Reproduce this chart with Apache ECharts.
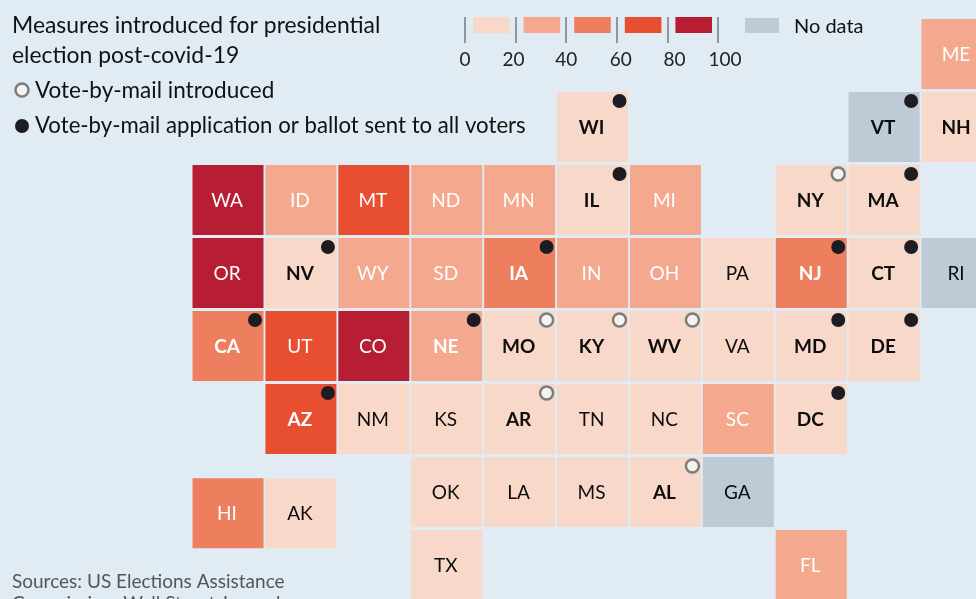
<!DOCTYPE html>
<html><head><meta charset="utf-8">
<style>html,body{margin:0;padding:0;background:#e1ebf3;overflow:hidden}#c{width:976px;height:599px}</style>
<script src="https://cdn.jsdelivr.net/npm/echarts@6/dist/echarts.min.js"></script>
</head><body><div id="c"></div>
<script>
const stateCodes = ['ME','WI','VT','NH','WA','ID','MT','ND','MN','IL','MI','NY','MA','OR','NV','WY','SD','IA','IN','OH','PA','NJ','CT','RI','CA','UT','CO','NE','MO','KY','WV','VA','MD','DE','AZ','NM','KS','AR','TN','NC','SC','DC','OK','LA','MS','AL','GA','TX','FL','HI','AK'];
const stateCols  = [10,5,9,10,0,1,2,3,4,5,6,8,9,0,1,2,3,4,5,6,7,8,9,10,0,1,2,3,4,5,6,7,8,9,1,2,3,4,5,6,7,8,3,4,5,6,7,3,8,0,1];
const stateRows  = [0,1,1,1,2,2,2,2,2,2,2,2,2,3,3,3,3,3,3,3,3,3,3,3,4,4,4,4,4,4,4,4,4,4,5,5,5,5,5,5,5,5,6,6,6,6,6,7,7,6.29,6.29];
// Share estimated from the colour bin of each tile; null = no data
const stateShares = [30,10,null,10,90,30,70,30,30,10,30,10,10,90,10,30,30,50,30,30,10,50,10,null,50,70,90,30,10,10,10,10,10,10,70,10,10,10,10,10,30,10,10,10,10,10,null,10,30,50,10];
const introduced = ['NY','NH','MO','KY','WV','AR','AL'];
const sentToAll = ['WI','VT','IL','MA','NV','IA','NJ','CT','CA','NE','MD','DE','AZ','DC'];
const binEdges = [0,20,40,60,80,100];
const binColors = ['#f8d8c9','#f4a88d','#ee7f5e','#e84f30','#b71e33'];
const noDataColor = '#bccbd5';
const ink = '#0d0d0d';

function colorOf(v){
  if(v==null) return noDataColor;
  for(let i=0;i<binColors.length;i++) if(v<binEdges[i+1]) return binColors[i];
  return binColors[binColors.length-1];
}
const tiles = stateCodes.map((c,i)=>[stateCols[i],stateRows[i],stateShares[i],c]);
const hasDot = c=>introduced.includes(c)||sentToAll.includes(c);
const dots = list=>list.map(c=>{const i=stateCodes.indexOf(c);return [stateCols[i],stateRows[i],c];});
const FONT='Lato';
const labelShift={20:-2,60:4,80:7,100:7};

const chart = echarts.init(document.getElementById('c'),null,{renderer:'canvas'});
chart.setOption({
  backgroundColor:'#e1ebf3',
  animation:false,
  textStyle:{fontFamily:FONT},
  grid:[
    {left:0,top:0,width:976,height:599},
    {left:465,top:17,width:253,height:26}
  ],
  xAxis:[
    {type:'value',gridIndex:0,min:-3.114,max:10.274,show:false},
    {type:'value',gridIndex:1,min:0,max:100,interval:20,position:'bottom',
     axisLine:{show:false},splitLine:{show:false},
     axisTick:{show:true,inside:true,length:26,lineStyle:{color:'#8d979f',width:2}},
     axisLabel:{color:'#222',fontSize:19,margin:7,fontFamily:FONT,showMinLabel:true,showMaxLabel:true,
       formatter:v=>{const s=labelShift[v]||0;return s?`{${s>0?'r':'l'}${Math.abs(s)}|${v}}`:String(v);},
       rich:{l2:{padding:[0,4,0,0],fontSize:19,color:'#222'},r4:{padding:[0,0,0,8],fontSize:19,color:'#222'},r7:{padding:[0,0,0,14],fontSize:19,color:'#222'}}}}
  ],
  yAxis:[
    {type:'value',gridIndex:0,min:-0.74,max:7.466,inverse:true,show:false},
    {type:'value',gridIndex:1,min:0,max:1,show:false}
  ],
  series:[
    {type:'custom',name:'Share',xAxisIndex:0,yAxisIndex:0,data:tiles,clip:false,z:2,
     encode:{x:0,y:1},
     renderItem(p,api){
       const x=api.value(0),y=api.value(1),raw=tiles[p.dataIndex],v=raw[2],code=raw[3];
       const c=api.coord([x,y]);
       const fill=colorOf(v);
       const pale=v==null||v<20;
       return {type:'group',children:[
         {type:'rect',shape:{x:c[0]-34.5,y:c[1]-35,width:71,height:70},style:{fill}},
         {type:'text',style:{x:c[0],y:c[1]+1,text:code,textAlign:'center',textVerticalAlign:'middle',
           fill:pale?ink:'#fff',font:(hasDot(code)?'700':'400')+' 19px '+FONT}}
       ]};
     }},
    {type:'scatter',name:'Vote-by-mail introduced',xAxisIndex:0,yAxisIndex:0,data:dots(introduced),clip:false,z:3,
     symbolSize:13,symbolOffset:[28,-26],itemStyle:{color:'#f4f3f0',borderColor:'#7d7d7d',borderWidth:2.5,opacity:1}},
    {type:'scatter',name:'Vote-by-mail application or ballot sent to all voters',xAxisIndex:0,yAxisIndex:0,data:dots(sentToAll),clip:false,z:3,
     symbolSize:14,symbolOffset:[28,-26],itemStyle:{color:'#1c1c22',opacity:1}},
    {type:'custom',name:'Key',xAxisIndex:1,yAxisIndex:1,clip:false,z:2,
     data:binColors.map((c,i)=>[binEdges[i],binEdges[i+1]]),encode:{x:[0,1]},
     renderItem(p,api){
       const a=api.coord([api.value(0),1]),b=api.coord([api.value(1),1]);
       return {type:'rect',shape:{x:a[0]+8,y:a[1],width:b[0]-a[0]-14,height:16},style:{fill:binColors[p.dataIndex]}};
     }}
  ],
  graphic:[
    {type:'text',left:12,top:11,style:{text:'Measures introduced for presidential\nelection post-covid-19',font:'400 22.9px '+FONT,fill:'#111',lineHeight:30}},
    {type:'circle',shape:{cx:22,cy:90,r:6.5},style:{fill:'#f4f3f0',stroke:'#7d7d7d',lineWidth:2.5}},
    {type:'text',left:35,top:79,style:{text:'Vote-by-mail introduced',font:'400 22.5px '+FONT,fill:'#111'}},
    {type:'circle',shape:{cx:22,cy:126,r:7},style:{fill:'#1c1c22'}},
    {type:'text',left:35,top:115,style:{text:'Vote-by-mail application or ballot sent to all voters',font:'400 22.2px '+FONT,fill:'#111'}},
    {type:'rect',shape:{x:745,y:18,width:34,height:15},style:{fill:noDataColor}},
    {type:'text',left:794,top:17,style:{text:'No data',font:'400 20px '+FONT,fill:'#111'}},
    {type:'text',left:12,top:571,style:{text:'Sources: US Elections Assistance\nCommission; Wall Street Journal',font:'400 19px '+FONT,fill:'#555',lineHeight:22}}
  ]
});
</script></body></html>
